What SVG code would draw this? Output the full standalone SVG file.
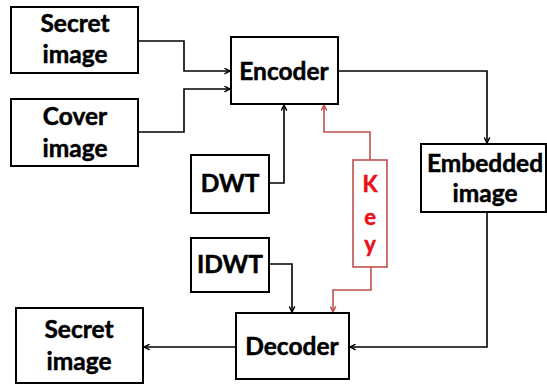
<svg xmlns="http://www.w3.org/2000/svg" width="547" height="385" viewBox="0 0 547 385">
<defs>
<style>
.box{fill:#fff;stroke:#000;stroke-width:2}
.lbl{font-family:Lato,"Liberation Sans",sans-serif;font-weight:bold;font-size:24.5px;fill:#000;stroke:#000;stroke-width:0.5;text-anchor:middle}
.key{font-family:Lato,"Liberation Sans",sans-serif;font-weight:bold;font-size:22px;fill:#e8101a;stroke:#e8101a;stroke-width:0.5;text-anchor:middle}
.con{fill:none;stroke:#000;stroke-width:1.6}
.red{fill:none;stroke:#c0504d;stroke-width:1.6}
</style>
<marker id="ah" viewBox="0 0 10 10" refX="9" refY="5" markerWidth="7" markerHeight="7" markerUnits="userSpaceOnUse" orient="auto">
<path d="M1,1 L9,5 L1,9" fill="none" stroke="#000" stroke-width="2"/>
</marker>
<marker id="ahr" viewBox="0 0 10 10" refX="9" refY="5" markerWidth="7" markerHeight="7" markerUnits="userSpaceOnUse" orient="auto">
<path d="M1,1 L9,5 L1,9" fill="none" stroke="#c0504d" stroke-width="2"/>
</marker>
</defs>
<rect width="547" height="385" fill="#fff"/>
<g id="connectors">
<path class="con" d="M138,41 H184 V71 H230" marker-end="url(#ah)"/>
<path class="con" d="M138,132 H184 V89 H230" marker-end="url(#ah)"/>
<path class="con" d="M269,183 H284 V105" marker-end="url(#ah)"/>
<path class="red" d="M370,160 V132 H324 V105" marker-end="url(#ahr)"/>
<path class="con" d="M338,71 H487 V143" marker-end="url(#ah)"/>
<path class="con" d="M487,212 V347 H350" marker-end="url(#ah)"/>
<path class="con" d="M269,264 H292 V312" marker-end="url(#ah)"/>
<path class="red" d="M371,267 V290 H333 V312" marker-end="url(#ahr)"/>
<path class="con" d="M236,347 H144" marker-end="url(#ah)"/>
</g>
<g id="secret-in">
<rect class="box" x="11" y="7" width="127" height="66"/>
<text class="lbl" x="75" y="32">Secret</text>
<text class="lbl" x="75" y="63">image</text>
</g>
<g id="cover">
<rect class="box" x="11" y="99" width="127" height="67"/>
<text class="lbl" x="75" y="125">Cover</text>
<text class="lbl" x="75" y="157">image</text>
</g>
<g id="encoder">
<rect class="box" x="231" y="37" width="107" height="67"/>
<text class="lbl" x="284" y="80">Encoder</text>
</g>
<g id="dwt">
<rect class="box" x="191" y="155" width="78" height="58"/>
<text class="lbl" x="230" y="192">DWT</text>
</g>
<g id="key">
<rect x="353" y="160" width="34" height="107" fill="#fff" stroke="#c0504d" stroke-width="1.6"/>
<text class="key" x="370" y="192">K</text>
<text class="key" x="370" y="225">e</text>
<text class="key" x="370" y="252">y</text>
</g>
<g id="embedded">
<rect class="box" x="421" y="144" width="125" height="68"/>
<text class="lbl" x="485" y="172">Embedded</text>
<text class="lbl" x="485" y="202">image</text>
</g>
<g id="idwt">
<rect class="box" x="191" y="238" width="78" height="54"/>
<text class="lbl" x="230" y="273">IDWT</text>
</g>
<g id="decoder">
<rect class="box" x="236" y="313" width="113" height="66"/>
<text class="lbl" x="292" y="355">Decoder</text>
</g>
<g id="secret-out">
<rect class="box" x="16" y="308" width="127" height="75"/>
<text class="lbl" x="79" y="338">Secret</text>
<text class="lbl" x="79" y="370">image</text>
</g>
</svg>
